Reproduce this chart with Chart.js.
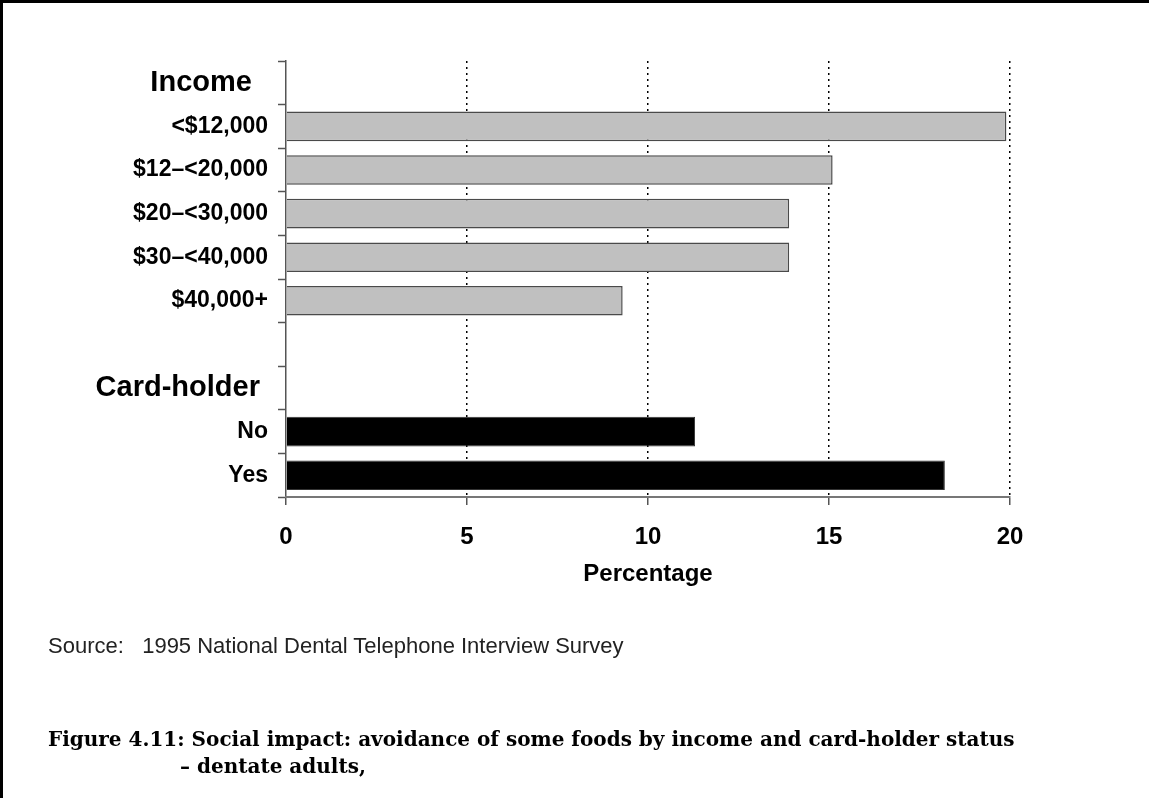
<!DOCTYPE html>
<html>
<head>
<meta charset="utf-8">
<script src="https://cdn.jsdelivr.net/npm/chart.js@4/dist/chart.umd.min.js"></script>
<style>
  html, body { margin: 0; padding: 0; background: #fff; }
  #page { position: relative; width: 1149px; height: 798px; overflow: hidden; }
  #frame { position: absolute; left: 0; top: 0; width: 1149px; height: 798px;
           border-left: 3px solid #000; border-top: 3px solid #000; box-sizing: border-box; }
  #chart { position: absolute; left: 0; top: 0; }
  .source { position: absolute; left: 48px; top: 633px; font: 22px "Liberation Sans", Arial, sans-serif; color: #222; white-space: pre; }
  .caption { position: absolute; left: 48px; top: 726px; font: bold 20px "DejaVu Serif", serif; color: #000; line-height: 27px; white-space: nowrap; }
</style>
</head>
<body>
<div id="page">
  <canvas id="chart" width="1149" height="798"></canvas>
  <div id="frame"></div>
  <div class="source">Source:   1995 National Dental Telephone Interview Survey</div>
  <div class="caption">Figure 4.11: Social impact: avoidance of some foods by income and card-holder status<br><span style="padding-left:132px">– dentate adults,</span></div>
</div>
<script>
// category rows, top to bottom (headers have no bar)
const categories = ['Income  ', '<$12,000', '$12–<20,000', '$20–<30,000', '$30–<40,000', '$40,000+', '', 'Card-holder ', 'No', 'Yes'];
const headerRows = [0, 7];
const incomeValues = [null, 19.9, 15.1, 13.9, 13.9, 9.3, null, null, null, null];
const cardholderValues = [null, null, null, null, null, null, null, null, 11.3, 18.2];
const xTicks = [0, 5, 10, 15, 20];

const ctx = document.getElementById('chart').getContext('2d');
new Chart(ctx, {
    type: 'bar',
    data: {
        labels: categories,
        datasets: [
            {
                data: incomeValues,
                backgroundColor: '#c0c0c0',
                borderColor: '#4a4a4a',
                borderWidth: 1.5,
                borderSkipped: 'left',
                barPercentage: 0.68,
                categoryPercentage: 1,
                grouped: false
            },
            {
                data: cardholderValues,
                backgroundColor: '#000',
                borderColor: '#333',
                borderWidth: 1,
                borderSkipped: 'left',
                barPercentage: 0.68,
                categoryPercentage: 1,
                grouped: false
            }
        ]
    },
    options: {
        indexAxis: 'y',
        responsive: false,
        animation: false,
        layout: { padding: { top: 61, right: 139, left: 0, bottom: 205 } },
        plugins: { legend: { display: false }, tooltip: { enabled: false } },
        scales: {
            y: {
                afterFit: (scale) => { scale.width = 286; },
                grid: {
                    offset: true,
                    drawOnChartArea: false,
                    tickLength: 8,
                    tickColor: '#555',
                    tickWidth: 1.5
                },
                border: { color: '#555', width: 1.5 },
                ticks: {
                    color: '#000',
                    padding: 10,
                    font: (c) => headerRows.includes(c.index)
                        ? { family: 'Liberation Sans, Arial', size: 29, weight: 'bold' }
                        : { family: 'Liberation Sans, Arial', size: 23, weight: 'bold' }
                }
            },
            x: {
                min: 0,
                max: 20,
                afterFit: (scale) => { scale.height = 96; },
                afterBuildTicks: (scale) => { scale.ticks = xTicks.map(v => ({ value: v })); },
                grid: {
                    color: (c) => c.index === 0 ? 'rgba(0,0,0,0)' : '#000',
                    lineWidth: 1.5,
                    tickLength: 8,
                    tickColor: '#555',
                    tickWidth: 1.5
                },
                border: { color: '#777', width: 2, dash: [2, 4] },
                ticks: {
                    color: '#000',
                    padding: 18,
                    font: { family: 'Liberation Sans, Arial', size: 24, weight: 'bold' }
                },
                title: {
                    display: true,
                    text: 'Percentage',
                    color: '#000',
                    font: { family: 'Liberation Sans, Arial', size: 24, weight: 'bold' },
                    padding: { top: 4, bottom: 4 }
                }
            }
        }
    }
});
</script>
</body>
</html>
